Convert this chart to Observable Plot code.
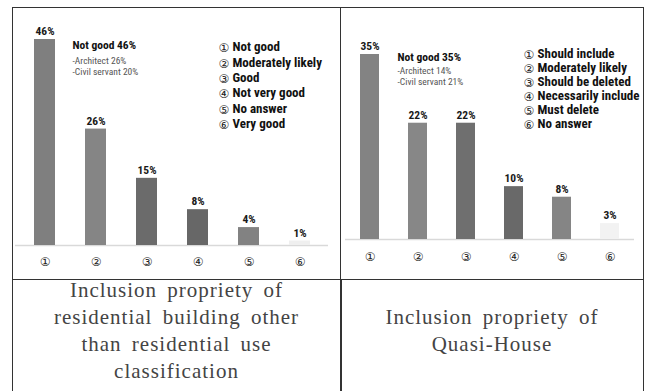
<!DOCTYPE html>
<html><head><meta charset="utf-8">
<script src="https://cdn.jsdelivr.net/npm/d3@7"></script>
<script src="https://cdn.jsdelivr.net/npm/@observablehq/plot@0.6"></script>
<style>
body{margin:0;background:#fff;width:651px;height:391px;overflow:hidden;position:relative}
.frame{position:absolute;left:12px;top:7px;width:632px;height:420px;border:1.5px solid #333;box-sizing:border-box}
.vline{position:absolute;left:340px;top:7px;width:1.5px;height:420px;background:#333}
.hline{position:absolute;left:12px;top:278px;width:632px;height:1.5px;background:#333}
#c1{position:absolute;left:13px;top:8px}
#c2{position:absolute;left:341px;top:8px}
.cap{position:absolute;font-family:"Liberation Serif",serif;font-size:21px;color:#444;text-align:center;line-height:27px;letter-spacing:1px;word-spacing:4px;white-space:nowrap}
#cap1{left:13px;width:327px;top:277px}
#cap2{left:341px;width:302px;top:304px}
</style>
</head><body>
<div class="frame"></div><div class="vline"></div><div class="hline"></div>
<div id="c1"></div><div id="c2"></div>
<div id="cap1" class="cap"></div><div id="cap2" class="cap"></div>
<script>
const categories = ["①","②","③","④","⑤","⑥"];
const values1 = [46, 26, 15, 8, 4, 1];
const values2 = [35, 22, 22, 10, 8, 3];
const legend1 = ["Not good","Moderately likely","Good","Not very good","No answer","Very good"];
const legend2 = ["Should include","Moderately likely","Should be deleted","Necessarily include","Must delete","No answer"];
const noteTitle1 = "Not good 46%";
const noteLines1 = ["-Architect 26%","-Civil servant 20%"];
const noteTitle2 = "Not good 35%";
const noteLines2 = ["-Architect 14%","-Civil servant 21%"];
const caption1 = ["Inclusion propriety of","residential building other","than residential use","classification"];
const caption2 = ["Inclusion propriety of","Quasi-House"];

const shades1 = ["#7f7f7f","#858585","#6b6b6b","#676767","#828282","#efefef"];
const shades2 = ["#838383","#878787","#6f6f6f","#696969","#858585","#f2f2f2"];
const narrow = '"Liberation Sans Narrow","Roboto Condensed","Arial Narrow",Roboto,sans-serif';

function chart(values, shades, legend, noteTitle, noteLines, o) {
  const data = categories.map((c, i) => ({cat: c, v: values[i]}));
  return Plot.plot({
    width: o.width, height: 271,
    marginLeft: o.ml, marginRight: o.mr, marginTop: o.mt, marginBottom: o.mb,
    x: {domain: categories, paddingInner: o.pi, paddingOuter: o.po, label: null},
    y: {domain: [0, d3.max(values)], axis: null},
    color: {domain: categories, range: shades},
    style: {fontFamily: narrow, background: "white", overflow: "visible"},
    marks: [
      Plot.ruleY([0], {stroke: "#d9d9d9", strokeWidth: 1.5}),
      Plot.barY(data, {x: "cat", y: "v", fill: "cat"}),
      Plot.text(data, {x: "cat", y: "v", text: d => d.v + "%", dy: -8, fontWeight: "bold", fontSize: 11.5, fill: "#1a1a1a"}),
      Plot.axisX({tickSize: 0, tickPadding: o.tp, fontSize: 12, fontFamily: "DejaVu Sans", color: "#222"}),
      Plot.text([categories.join("\n")], {frameAnchor: "top-left", dx: o.ldx, dy: o.ldy + 1, fontSize: 12, fontFamily: "DejaVu Sans", lineHeight: o.llh * 13 / 12, fill: "#222"}),
      Plot.text([legend.join("\n")], {frameAnchor: "top-left", dx: o.ldx + 14, dy: o.ldy, fontSize: 13, fontWeight: "bold", lineHeight: o.llh, fill: "#111"}),
      Plot.text([noteTitle], {frameAnchor: "top-left", dx: o.ndx, dy: o.ndy, fontSize: 11.5, fontWeight: "bold", fill: "#111"}),
      Plot.text([noteLines.join("\n")], {frameAnchor: "top-left", dx: o.ndx, dy: o.ndy2, fontSize: 9.5, lineHeight: o.nlh, fill: "#555"})
    ]
  });
}

document.getElementById("c1").appendChild(chart(values1, shades1, legend1, noteTitle1, noteLines1,
  {width: 327, ml: 2, mr: 12, mt: 31, mb: 34, pi: 0.595, po: 0.33, tp: 12, ldx: 203, ldy: 1, llh: 1.18, ndx: 57, ndy: 1, ndy2: 15.5, nlh: 1.26}));
document.getElementById("c2").appendChild(chart(values2, shades2, legend2, noteTitle2, noteLines2,
  {width: 302, ml: 4, mr: 9, mt: 46, mb: 40, pi: 0.597, po: 0.284, tp: 13, ldx: 178, ldy: -7, llh: 1.09, ndx: 52, ndy: -2, ndy2: 11.5, nlh: 1.16}));

document.getElementById("cap1").innerHTML = caption1.map(s => `<div>${s}</div>`).join("");
document.getElementById("cap2").innerHTML = caption2.map(s => `<div>${s}</div>`).join("");
</script>
</body></html>
